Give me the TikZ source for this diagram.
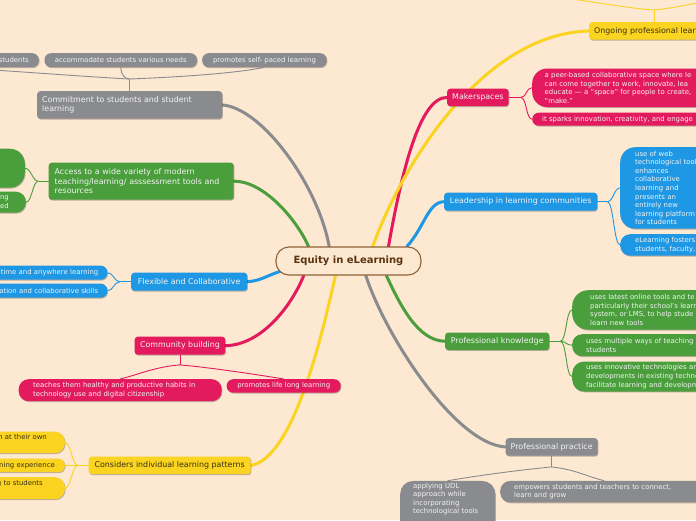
\documentclass[tikz,border=0pt]{standalone}
\usepackage{fontspec}
\setmainfont{DejaVu Sans}
\usetikzlibrary{shadows,backgrounds}
\definecolor{paper}{RGB}{253,232,209}
\definecolor{rootline}{RGB}{143,98,56}
\definecolor{roottext}{RGB}{92,52,16}
\definecolor{mmgray}{RGB}{138,139,143}
\definecolor{mmgreen}{RGB}{74,158,60}
\definecolor{mmblue}{RGB}{30,152,228}
\definecolor{mmred}{RGB}{228,26,94}
\definecolor{mmyellow}{RGB}{250,212,32}
\definecolor{yeltext}{RGB}{58,48,18}
\definecolor{nodetext}{RGB}{243,243,243}

\begin{document}
\begin{tikzpicture}[
  x=1pt, y=-1pt,
  rootbox/.style={draw=rootline, line width=1.1pt, fill=paper, rounded corners=13pt,
    minimum width=145pt, minimum height=28pt, text=roottext,
    font=\fontsize{10}{12}\selectfont\bfseries},
  topic/.style={rectangle, rounded corners=3pt, anchor=north west, align=left,
    font=\fontsize{7.9}{9.5}\selectfont, text=nodetext, inner xsep=5pt, inner ysep=2pt,
    drop shadow={shadow xshift=0.7pt, shadow yshift=-0.9pt, opacity=0.25, fill=black}},
  leaf/.style={topic, rounded corners=6.5pt, font=\fontsize{6.9}{8.6}\selectfont},
  edgeleaf/.style={leaf, anchor=north east, align=right, text width=150pt, inner xsep=#1},
  branch/.style={line width=3pt, line cap=round},
  twig/.style={line width=0.9pt}
]
\useasboundingbox (0,0) rectangle (696,520);
\clip (0,0) rectangle (696,520);

\node[rootbox] (root) at (348.5,261) {Equity in eLearning};

% left side
\node[topic, fill=mmgray, text width=175pt, minimum height=27.5pt] (comm) at (37,91) {Commitment to students and student\\learning};
\node[edgeleaf=10pt, fill=mmgray, minimum height=14pt] (stud) at (39,53) {students};
\node[leaf, fill=mmgray, minimum width=152.5pt, minimum height=14pt] (accom) at (44.3,53) {accommodate students various needs};
\node[leaf, fill=mmgray, minimum width=124.5pt, minimum height=14pt] (selfp) at (202,53) {promotes self- paced learning};

\node[topic, fill=mmgreen, text width=173pt, inner xsep=6pt, minimum height=37pt] (access) at (48.5,162.5) {Access to a wide variety of modern\\teaching/learning/ asssessment tools and\\resources};
\node[leaf, fill=mmgreen, anchor=north east, minimum width=80pt, minimum height=39pt, rounded corners=15pt] (gbig) at (25,148.5) {};
\node[edgeleaf=17pt, fill=mmgreen, minimum height=21pt, rounded corners=10pt] (gsmall) at (26,191.5) {ng\\ed};

\node[topic, fill=mmblue, minimum width=116pt, minimum height=18pt] (flex) at (131,272.5) {Flexible and Collaborative};
\node[edgeleaf=9pt, fill=mmblue, minimum height=14pt] (anyt) at (107.5,265.5) {time and anywhere learning};
\node[edgeleaf=9pt, fill=mmblue, minimum height=14pt] (collab) at (107.5,283.5) {ation and collaborative skills};

\node[topic, fill=mmred, minimum width=90.5pt, minimum height=18pt] (comb) at (134.5,336.5) {Community building};
\node[leaf, fill=mmred, text width=174pt, inner xsep=14.5pt, minimum height=22pt, rounded corners=10pt] (habits) at (18.5,379) {teaches them healthy and productive habits in\\technology use and digital citizenship};
\node[leaf, fill=mmred, minimum width=114pt, minimum height=13.5pt] (lifel) at (226.5,379) {promotes life long learning};

\node[topic, fill=mmyellow, text=yeltext, minimum width=162pt, minimum height=17.5pt] (consid) at (88.5,456.5) {Considers individual learning patterns};
\node[edgeleaf=18pt, fill=mmyellow, text=yeltext, minimum height=21.5pt, rounded corners=10pt] (ownp) at (65,431.5) {n at their own\\\strut};
\node[edgeleaf=10pt, fill=mmyellow, text=yeltext, minimum height=13.5pt] (lexp) at (65,458.5) {ning experience};
\node[edgeleaf=22pt, fill=mmyellow, text=yeltext, minimum height=22pt, rounded corners=10pt] (tostud) at (65,477) {g to students\\\strut};

% right side
\node[topic, fill=mmyellow, text=yeltext, text width=120pt, minimum height=17.5pt] (ongoing) at (589,22) {Ongoing professional lear};
\coordinate (ogleft) at (530,-6);
\coordinate (ogright) at (770,-8);

\node[topic, fill=mmred, minimum width=61pt, minimum height=17.5pt] (maker) at (447,88.5) {Makerspaces};
\node[leaf, fill=mmred, text width=180pt, inner xsep=12.5pt, minimum height=38.5pt, rounded corners=15pt] (space) at (532,68.3) {a peer-based collaborative space where le\\can come together to work, innovate, lea\\educate — a “space” for people to create,\\“make.”};
\node[leaf, fill=mmred, text width=180pt, inner xsep=10pt, minimum height=13pt] (sparks) at (532,112.5) {it sparks innovation, creativity, and engage};

\node[topic, fill=mmblue, minimum width=153pt, minimum height=18pt] (lead) at (444,192.5) {Leadership in learning communities};
\node[leaf, fill=mmblue, text width=90pt, inner xsep=15pt, minimum height=81.5pt, rounded corners=15pt] (webtools) at (620,147) {use of web\\technological tool\\enhances\\collaborative\\learning and\\presents an\\entirely new\\learning platform\\for students};
\node[leaf, fill=mmblue, text width=90pt, inner xsep=15pt, minimum height=21.5pt, rounded corners=10pt] (fosters) at (620,234) {eLearning fosters\\students, faculty,};

\node[topic, fill=mmgreen, minimum width=104pt, minimum height=17.5pt] (pknow) at (445,332.3) {Professional knowledge};
\node[leaf, fill=mmgreen, text width=150pt, inner xsep=18pt, minimum height=39.5pt, rounded corners=16pt] (online) at (572,290) {uses latest online tools and te\\particularly their school's learn\\system, or LMS, to help stude\\learn new tools};
\node[leaf, fill=mmgreen, text width=150pt, inner xsep=14pt, minimum height=22pt, rounded corners=10pt] (ways) at (572,334) {uses multiple ways of teaching\\students};
\node[leaf, fill=mmgreen, text width=150pt, inner xsep=14pt, minimum height=30pt, rounded corners=12pt] (innov) at (572,361.3) {uses innovative technologies an\\developments in existing techno\\facilitate learning and developm};

\node[topic, fill=mmgray, minimum width=92pt, minimum height=17.5pt] (ppract) at (505.5,438) {Professional practice};
\node[leaf, fill=mmgray, text width=69pt, inner xsep=13pt, rounded corners=13pt] (udl) at (400,480.7) {applying UDL\\approach while\\incorporating\\technological tools\\\strut\\\strut};
\node[leaf, fill=mmgray, text width=180pt, inner xsep=14pt, minimum height=21.5pt, rounded corners=10pt] (empow) at (500,480.7) {empowers students and teachers to connect,\\learn and grow};

% twigs
\draw[twig, mmgray] (comm.north) -- ++(0,-12) coordinate (cj);
\draw[twig, mmgray] (cj) .. controls +(-40,-2) and +(50,3) .. (stud.south);
\draw[twig, mmgray] (cj) .. controls +(-5,0) and +(0,7) .. (accom.south);
\draw[twig, mmgray] (cj) .. controls +(50,-2) and +(-30,6) .. (selfp.south);

\draw[twig, mmgreen] (access.west) -- ++(-10,0) coordinate (aj);
\draw[twig, mmgreen] (aj) .. controls +(-6,0) and +(6,0) .. (gbig.east);
\draw[twig, mmgreen] (aj) .. controls +(-6,0) and +(6,0) .. (gsmall.east);

\draw[twig, mmblue] (flex.west) -- ++(-11,0) coordinate (fj);
\draw[twig, mmblue] (fj) .. controls +(-6,0) and +(6,0) .. (anyt.east);
\draw[twig, mmblue] (fj) .. controls +(-6,0) and +(6,0) .. (collab.east);

\draw[twig, mmred] (comb.south) -- ++(0,10) coordinate (cbj);
\draw[twig, mmred] (cbj) .. controls +(-25,2) and +(20,-5) .. (habits.north);
\draw[twig, mmred] (cbj) .. controls +(25,2) and +(-30,-5) .. (lifel.north);

\draw[twig, mmyellow] (consid.west) -- ++(-10.5,0) coordinate (yj);
\draw[twig, mmyellow] (yj) .. controls +(-6,0) and +(6,0) .. (ownp.east);
\draw[twig, mmyellow] (yj) .. controls +(-6,0) and +(6,0) .. (lexp.east);
\draw[twig, mmyellow] (yj) .. controls +(-6,0) and +(6,0) .. (tostud.east);

\draw[twig, mmyellow] (ongoing.north) -- ++(0,-12) coordinate (oj);
\draw[twig, mmyellow] (oj) .. controls +(-40,-3) and +(40,3) .. (ogleft);
\draw[twig, mmyellow] (oj) .. controls +(30,-3) and +(-40,3) .. (ogright);

\draw[twig, mmred] (maker.east) -- ++(12,0) coordinate (mj);
\draw[twig, mmred] (mj) .. controls +(6,0) and +(-6,0) .. (space.west);
\draw[twig, mmred] (mj) .. controls +(6,0) and +(-6,0) .. (sparks.west);

\draw[twig, mmblue] (lead.east) -- ++(10,0) coordinate (lj);
\draw[twig, mmblue] (lj) .. controls +(6,0) and +(-6,0) .. (webtools.west);
\draw[twig, mmblue] (lj) .. controls +(6,0) and +(-6,0) .. (fosters.west);

\draw[twig, mmgreen] (pknow.east) -- ++(11,0) coordinate (pj);
\draw[twig, mmgreen] (pj) .. controls +(6,0) and +(-6,0) .. (online.west);
\draw[twig, mmgreen] (pj) .. controls +(6,0) and +(-6,0) .. (ways.west);
\draw[twig, mmgreen] (pj) .. controls +(6,0) and +(-6,0) .. (innov.west);

\draw[twig, mmgray] (ppract.south) -- ++(0,11) coordinate (ppj);
\draw[twig, mmgray] (ppj) .. controls +(-40,4) and +(30,-5) .. (udl.north);
\draw[twig, mmgray] (ppj) .. controls +(25,3) and +(-20,-5) .. (empow.north);

% main branches, behind the nodes
\begin{scope}[on background layer]
  \fill[paper] (0,0) rectangle (696,520);
  \draw[branch, mmgray] (root.143) .. controls (318,185) and (262,108) .. (comm.east);
  \draw[branch, mmgreen] (root.160) .. controls (298,222) and (265,181) .. (access.east);
  \draw[branch, mmblue] ([xshift=5pt]root.188) .. controls (266,276) and (260,281) .. (flex.east);
  \draw[branch, mmred] (root.198) .. controls (292,305) and (262,345) .. (comb.east);
  \draw[branch, mmyellow] (root.228) .. controls (320,345) and (292,458) .. (consid.east);
  \draw[branch, mmgray] (root.320) .. controls (385,335) and (455,444) .. (ppract.west);
  \draw[branch, mmgreen] (root.339) .. controls (400,305) and (418,341) .. (pknow.west);
  \draw[branch, mmblue] (root.14) .. controls (424,228) and (428,202) .. (lead.west);
  \draw[branch, mmred] (root.20) .. controls (402,170) and (420,97) .. (maker.west);
  \draw[branch, mmyellow] (root.31) .. controls (400,170) and (480,34) .. (ongoing.west);
\end{scope}
\end{tikzpicture}
\end{document}
